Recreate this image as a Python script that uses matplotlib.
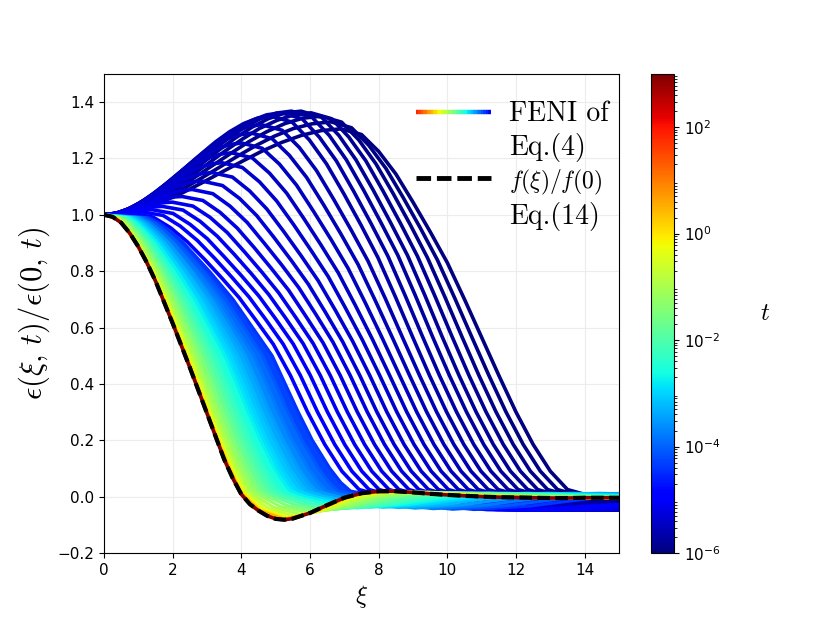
import numpy as np
import matplotlib
matplotlib.use("Agg")
import matplotlib.pyplot as plt
from matplotlib.colors import LogNorm, Normalize
from matplotlib.collections import LineCollection
from matplotlib.legend_handler import HandlerBase
from matplotlib.lines import Line2D
from matplotlib.cm import ScalarMappable
from matplotlib.font_manager import FontProperties

plt.rcParams['mathtext.fontset'] = 'cm'

# ---------------- data ----------------
# limit curve f(xi)/f(0), Eq.(14)
lim_xi = [0, 0.25, 0.5, 0.75, 1.0, 1.25, 1.5, 2.0, 2.5, 3.0, 3.5, 3.75, 4.0, 4.25, 4.5, 4.75,
          5.0, 5.25, 5.5, 6.0, 6.5, 7.0, 7.5, 8.0, 8.5, 9.0, 9.5, 10.0, 10.5, 11.0, 11.5,
          12.0, 12.5, 13.0, 13.5, 14.0, 14.5, 15.0]
lim_eps = [1.000, 0.993, 0.972, 0.935, 0.887, 0.830, 0.765, 0.615, 0.458, 0.295, 0.132, 0.065,
           0.008, -0.027, -0.050, -0.068, -0.079, -0.082, -0.078, -0.058, -0.030, -0.004, 0.012,
           0.019, 0.019, 0.015, 0.010, 0.006, 0.003, 0.000, -0.002, -0.003, -0.004, -0.005,
           -0.005, -0.004, -0.004, -0.004]
lim_logt = 3.0

# early-time curves (distinct dark-blue lines), log10(t)
dark_logt = [-6.00, -5.95, -5.90, -5.85, -5.80, -5.75, -5.70, -5.65, -5.60, -5.55, -5.50,
             -5.45, -5.40, -5.35, -5.30, -5.25, -5.20, -5.15, -5.10, -5.05, -5.00, -4.95]
# rising part (from xi=0 up to just before the bump maximum)
dark_rise_xi = [
    [0, 0.575, 1.15, 1.725, 2.30, 2.875, 3.45, 4.025, 4.60, 5.175, 5.75, 6.325],
    [0, 0.55, 1.10, 1.65, 2.20, 2.75, 3.31, 3.86, 4.41, 4.96, 5.51, 6.06],
    [0, 0.53, 1.05, 1.58, 2.11, 2.63, 3.16, 3.69, 4.21, 4.74, 5.27, 5.79],
    [0, 0.50, 1.01, 1.51, 2.01, 2.51, 3.02, 3.52, 4.02, 4.52, 5.03, 5.53],
    [0, 0.48, 0.96, 1.43, 1.91, 2.39, 2.87, 3.35, 3.83, 4.31, 4.78, 5.26],
    [0, 0.46, 0.91, 1.37, 1.82, 2.28, 2.73, 3.19, 3.64, 4.10, 4.55, 5.01],
    [0, 0.43, 0.86, 1.29, 1.72, 2.15, 2.59, 3.02, 3.45, 3.88, 4.31, 4.74],
    [0, 0.41, 0.81, 1.22, 1.63, 2.03, 2.44, 2.85, 3.25, 3.66, 4.07, 4.47],
    [0, 0.38, 0.77, 1.15, 1.53, 1.91, 2.30, 2.68, 3.06, 3.44, 3.83, 4.21],
    [0, 0.36, 0.72, 1.08, 1.43, 1.79, 2.15, 2.51, 2.87, 3.23, 3.58, 3.94],
    [0, 0.33, 0.67, 1.00, 1.34, 1.67, 2.01, 2.34, 2.67, 3.01, 3.34, 3.68],
    [0, 0.31, 0.62, 0.93, 1.24, 1.55, 1.86, 2.17, 2.48, 2.79, 3.10, 3.41],
    [0, 0.29, 0.57, 0.86, 1.14, 1.43, 1.72, 2.00, 2.29, 2.57, 2.86, 3.14],
    [0, 0.26, 0.52, 0.79, 1.05, 1.31, 1.57, 1.83, 2.09, 2.36, 2.62, 2.88],
    [0, 0.24, 0.48, 0.71, 0.95, 1.19, 1.43, 1.66, 1.90, 2.14, 2.38, 2.61],
    [0, 0.21, 0.43, 0.64, 0.86, 1.07, 1.29, 1.50, 1.71, 1.93, 2.14, 2.36],
    [0, 0.19, 0.38, 0.57, 0.76, 0.95, 1.14, 1.33, 1.52, 1.71, 1.90, 2.09],
    [0, 0.17, 0.33, 0.50, 0.66, 0.83, 1.00, 1.16, 1.33, 1.49, 1.66, 1.82],
    [0, 0.14, 0.28, 0.43, 0.57, 0.71, 0.85, 0.99, 1.13, 1.28, 1.42, 1.56],
    [0, 0.12, 0.24, 0.35, 0.47, 0.59, 0.71, 0.82, 0.94, 1.06, 1.18, 1.29],
    [0, 0.09, 0.19, 0.28, 0.37, 0.47, 0.56, 0.65, 0.75, 0.84, 0.93, 1.03],
    [0, 0.07, 0.14, 0.21, 0.28, 0.35, 0.42, 0.48, 0.55, 0.62, 0.69, 0.76],
]
dark_rise_eps = [
    [1, 1.006, 1.023, 1.048, 1.079, 1.115, 1.153, 1.190, 1.226, 1.257, 1.282, 1.299],
    [1, 1.007, 1.024, 1.052, 1.085, 1.124, 1.165, 1.206, 1.245, 1.279, 1.306, 1.323],
    [1, 1.007, 1.026, 1.055, 1.091, 1.132, 1.175, 1.218, 1.259, 1.295, 1.324, 1.343],
    [1, 1.007, 1.027, 1.056, 1.094, 1.136, 1.181, 1.226, 1.268, 1.306, 1.335, 1.355],
    [1, 1.007, 1.027, 1.057, 1.095, 1.138, 1.184, 1.230, 1.273, 1.311, 1.341, 1.361],
    [1, 1.007, 1.027, 1.057, 1.095, 1.138, 1.184, 1.230, 1.273, 1.311, 1.341, 1.361],
    [1, 1.007, 1.027, 1.056, 1.094, 1.136, 1.181, 1.226, 1.268, 1.306, 1.335, 1.355],
    [1, 1.007, 1.026, 1.055, 1.091, 1.132, 1.175, 1.218, 1.259, 1.295, 1.324, 1.343],
    [1, 1.006, 1.024, 1.050, 1.083, 1.120, 1.160, 1.200, 1.237, 1.270, 1.296, 1.314],
    [1, 1.006, 1.021, 1.045, 1.075, 1.109, 1.145, 1.181, 1.215, 1.245, 1.269, 1.284],
    [1, 1.005, 1.019, 1.040, 1.066, 1.096, 1.128, 1.159, 1.189, 1.215, 1.236, 1.250],
    [1, 1.004, 1.016, 1.034, 1.057, 1.083, 1.110, 1.137, 1.163, 1.186, 1.204, 1.216],
    [1, 1.004, 1.014, 1.029, 1.048, 1.070, 1.093, 1.115, 1.137, 1.156, 1.171, 1.181],
    [1, 1.003, 1.011, 1.023, 1.039, 1.056, 1.075, 1.094, 1.111, 1.127, 1.139, 1.147],
    [1, 1.002, 1.009, 1.019, 1.031, 1.045, 1.060, 1.075, 1.089, 1.101, 1.111, 1.118],
    [1, 1.002, 1.007, 1.014, 1.023, 1.034, 1.045, 1.056, 1.067, 1.076, 1.083, 1.088],
    [1, 1.001, 1.005, 1.010, 1.017, 1.024, 1.033, 1.041, 1.048, 1.055, 1.060, 1.064],
    [1, 1.001, 1.003, 1.007, 1.012, 1.017, 1.023, 1.028, 1.033, 1.038, 1.042, 1.044],
    [1, 1.001, 1.002, 1.005, 1.008, 1.011, 1.015, 1.019, 1.022, 1.025, 1.028, 1.029],
    [1, 1.000, 1.001, 1.003, 1.005, 1.007, 1.009, 1.011, 1.013, 1.015, 1.017, 1.018],
    [1, 1.000, 1.001, 1.002, 1.003, 1.004, 1.005, 1.006, 1.007, 1.008, 1.009, 1.010],
    [1, 1.000, 1.000, 1.001, 1.001, 1.002, 1.003, 1.003, 1.004, 1.004, 1.005, 1.005],
]
# bump maximum and descending part
dark_desc_xi = [
    [6.90, 7.50, 8.00, 8.50, 9.00, 9.50, 10.00, 10.50, 11.00, 11.50, 12.00, 12.50, 13.00, 13.50, 14.00, 14.50, 15.23, 16.23, 17.23, 18.23, 19.23, 20.73, 21.73],
    [6.61, 7.21, 7.71, 8.21, 8.71, 9.21, 9.71, 10.21, 10.71, 11.21, 11.71, 12.21, 12.71, 13.21, 13.71, 14.21, 14.94, 15.94, 16.94, 17.94, 18.94, 20.44, 21.44],
    [6.32, 6.92, 7.42, 7.92, 8.42, 8.92, 9.42, 9.92, 10.42, 10.92, 11.42, 11.92, 12.42, 12.92, 13.42, 13.92, 14.65, 15.65, 16.65, 17.65, 18.65, 20.15, 21.15],
    [6.03, 6.63, 7.13, 7.63, 8.13, 8.63, 9.13, 9.63, 10.13, 10.63, 11.13, 11.63, 12.13, 12.63, 13.13, 13.63, 14.36, 15.36, 16.36, 17.36, 18.36, 19.86, 20.86],
    [5.74, 6.34, 6.84, 7.34, 7.84, 8.34, 8.84, 9.34, 9.84, 10.34, 10.84, 11.34, 11.84, 12.34, 12.84, 13.34, 14.07, 15.07, 16.07, 17.07, 18.07, 19.57, 20.57],
    [5.46, 6.06, 6.56, 7.06, 7.56, 8.06, 8.56, 9.06, 9.56, 10.06, 10.56, 11.06, 11.56, 12.06, 12.56, 13.06, 13.79, 14.79, 15.79, 16.79, 17.79, 19.29, 20.29],
    [5.17, 5.77, 6.27, 6.77, 7.27, 7.77, 8.27, 8.77, 9.27, 9.77, 10.27, 10.77, 11.27, 11.77, 12.27, 12.77, 13.50, 14.50, 15.50, 16.50, 17.50, 19.00, 20.00],
    [4.88, 5.48, 5.98, 6.48, 6.98, 7.48, 7.98, 8.48, 8.98, 9.48, 9.98, 10.48, 10.98, 11.48, 11.98, 12.48, 13.21, 14.21, 15.21, 16.21, 17.21, 18.71, 19.71],
    [4.59, 5.19, 5.69, 6.19, 6.69, 7.19, 7.69, 8.19, 8.69, 9.19, 9.69, 10.19, 10.69, 11.19, 11.69, 12.19, 12.92, 13.92, 14.92, 15.92, 16.92, 18.42, 19.42],
    [4.30, 4.90, 5.40, 5.90, 6.40, 6.90, 7.40, 7.90, 8.40, 8.90, 9.40, 9.90, 10.40, 10.90, 11.40, 11.90, 12.63, 13.63, 14.63, 15.63, 16.63, 18.13, 19.13],
    [4.01, 4.61, 5.11, 5.61, 6.11, 6.61, 7.11, 7.61, 8.11, 8.61, 9.11, 9.61, 10.11, 10.61, 11.11, 11.61, 12.34, 13.34, 14.34, 15.34, 16.34, 17.84, 18.84],
    [3.72, 4.32, 4.82, 5.32, 5.82, 6.32, 6.82, 7.32, 7.82, 8.32, 8.82, 9.32, 9.82, 10.32, 10.82, 11.32, 12.05, 13.05, 14.05, 15.05, 16.05, 17.55, 18.55],
    [3.43, 4.03, 4.53, 5.03, 5.53, 6.03, 6.53, 7.03, 7.53, 8.03, 8.53, 9.03, 9.53, 10.03, 10.53, 11.03, 11.76, 12.76, 13.76, 14.76, 15.76, 17.26, 18.26],
    [3.14, 3.74, 4.24, 4.74, 5.24, 5.74, 6.24, 6.74, 7.24, 7.74, 8.24, 8.74, 9.24, 9.74, 10.24, 10.74, 11.47, 12.47, 13.47, 14.47, 15.47, 16.97, 17.97],
    [2.85, 3.45, 3.95, 4.45, 4.95, 5.45, 5.95, 6.45, 6.95, 7.45, 7.95, 8.45, 8.95, 9.45, 9.95, 10.45, 11.18, 12.18, 13.18, 14.18, 15.18, 16.68, 17.68],
    [2.57, 3.17, 3.67, 4.17, 4.67, 5.17, 5.67, 6.17, 6.67, 7.17, 7.67, 8.17, 8.67, 9.17, 9.67, 10.17, 10.90, 11.90, 12.90, 13.90, 14.90, 16.40, 17.40],
    [2.28, 2.88, 3.38, 3.88, 4.38, 4.88, 5.38, 5.88, 6.38, 6.88, 7.38, 7.88, 8.38, 8.88, 9.38, 9.88, 10.61, 11.61, 12.61, 13.61, 14.61, 16.11, 17.11],
    [1.99, 2.59, 3.09, 3.59, 4.09, 4.59, 5.09, 5.59, 6.09, 6.59, 7.09, 7.59, 8.09, 8.59, 9.09, 9.59, 10.32, 11.32, 12.32, 13.32, 14.32, 15.82, 16.82],
    [1.70, 2.30, 2.80, 3.30, 3.80, 4.30, 4.80, 5.30, 5.80, 6.30, 6.80, 7.30, 7.80, 8.30, 8.80, 9.30, 10.03, 11.03, 12.03, 13.03, 14.03, 15.53, 16.53],
    [1.41, 2.01, 2.51, 3.01, 3.51, 4.01, 4.51, 5.01, 5.51, 6.01, 6.51, 7.01, 7.51, 8.01, 8.51, 9.01, 9.74, 10.74, 11.74, 12.74, 13.74, 15.24, 16.24],
    [1.12, 1.72, 2.22, 2.72, 3.22, 3.72, 4.22, 4.72, 5.22, 5.72, 6.22, 6.72, 7.22, 7.72, 8.22, 8.72, 9.45, 10.45, 11.45, 12.45, 13.45, 14.95, 15.95],
    [0.83, 1.43, 1.93, 2.43, 2.93, 3.43, 3.93, 4.43, 4.93, 5.43, 5.93, 6.43, 6.93, 7.43, 7.93, 8.43, 9.16, 10.16, 11.16, 12.16, 13.16, 14.66, 15.66],
]
dark_desc_eps_head = [
    [1.305, 1.285, 1.225, 1.145, 1.045, 0.940, 0.830, 0.700, 0.565],
    [1.330, 1.309, 1.247, 1.165, 1.062, 0.954, 0.840, 0.706, 0.567],
    [1.350, 1.329, 1.266, 1.181, 1.076, 0.965, 0.848, 0.711, 0.569],
    [1.362, 1.341, 1.276, 1.191, 1.084, 0.971, 0.853, 0.714, 0.570],
    [1.368, 1.346, 1.282, 1.195, 1.088, 0.974, 0.856, 0.716, 0.570],
    [1.368, 1.346, 1.282, 1.195, 1.088, 0.974, 0.856, 0.716, 0.570],
    [1.362, 1.341, 1.276, 1.191, 1.084, 0.971, 0.853, 0.714, 0.570],
    [1.350, 1.329, 1.266, 1.181, 1.076, 0.965, 0.848, 0.711, 0.569],
    [1.320, 1.300, 1.239, 1.157, 1.055, 0.948, 0.836, 0.704, 0.566],
    [1.290, 1.270, 1.211, 1.133, 1.035, 0.932, 0.824, 0.696, 0.564],
    [1.255, 1.236, 1.180, 1.105, 1.011, 0.913, 0.810, 0.688, 0.561],
    [1.220, 1.202, 1.148, 1.077, 0.987, 0.893, 0.795, 0.679, 0.558],
    [1.185, 1.168, 1.117, 1.049, 0.964, 0.874, 0.781, 0.670, 0.555],
    [1.150, 1.134, 1.085, 1.021, 0.940, 0.855, 0.766, 0.661, 0.552],
    [1.120, 1.104, 1.058, 0.997, 0.920, 0.839, 0.754, 0.654, 0.550],
    [1.090, 1.075, 1.031, 0.973, 0.899, 0.823, 0.742, 0.647, 0.548],
    [1.065, 1.051, 1.009, 0.953, 0.883, 0.809, 0.732, 0.640, 0.546],
    [1.045, 1.031, 0.991, 0.937, 0.869, 0.798, 0.723, 0.635, 0.544],
    [1.030, 1.017, 0.977, 0.924, 0.859, 0.790, 0.717, 0.632, 0.543],
    [1.018, 1.005, 0.966, 0.915, 0.850, 0.783, 0.712, 0.629, 0.542],
    [1.010, 0.998, 0.960, 0.909, 0.846, 0.779, 0.709, 0.627, 0.541],
    [1.005, 0.992, 0.955, 0.904, 0.842, 0.776, 0.707, 0.625, 0.541],
]
dark_eps_tail = [0.43, 0.30, 0.185, 0.09, 0.025, 0.008, -0.004, -0.018, -0.035, -0.046,
                 -0.048, -0.042, -0.030, -0.025]

# later-time curves (the dense fan), log10(t)
fan_logt = [-4.4, -4.1, -3.8, -3.5, -3.25, -3.0, -2.75, -2.5, -2.25, -2.0, -1.75, -1.5,
            -1.25, -1.0, -0.7, -0.4, 0.0, 0.5]
fan_eps_head = [1.0, 0.99, 0.97, 0.94, 0.90, 0.80, 0.70, 0.60, 0.50, 0.40, 0.30, 0.20, 0.10,
                0.05, 0.02, 0.0]
fan_xi = [
    [0, 1.31, 1.62, 1.95, 2.32, 3.07, 3.76, 4.33, 4.90, 5.28, 5.66, 6.07, 6.58, 6.90, 7.18, 8.03, 9.31, 10.78, 12.45, 13.48, 14.50, 15.53, 17.15, 19.60, 22.79, 26.95, 31.85],
    [0, 1.20, 1.50, 1.81, 2.16, 2.88, 3.54, 4.08, 4.62, 5.00, 5.36, 5.77, 6.25, 6.56, 6.82, 7.59, 8.78, 10.16, 11.73, 12.71, 13.68, 14.65, 16.17, 18.48, 21.48, 25.41, 30.03],
    [0, 1.09, 1.38, 1.68, 2.02, 2.70, 3.33, 3.84, 4.36, 4.73, 5.09, 5.48, 5.95, 6.24, 6.49, 7.18, 8.28, 9.59, 11.07, 11.99, 12.91, 13.82, 15.26, 17.44, 20.27, 23.98, 28.34],
    [0, 1.00, 1.28, 1.56, 1.89, 2.54, 3.13, 3.63, 4.12, 4.48, 4.83, 5.22, 5.67, 5.95, 6.19, 6.81, 7.83, 9.06, 10.46, 11.33, 12.20, 13.06, 14.42, 16.48, 19.16, 22.66, 26.78],
    [0, 0.91, 1.18, 1.45, 1.77, 2.39, 2.96, 3.43, 3.90, 4.26, 4.60, 4.98, 5.41, 5.69, 5.90, 6.46, 7.41, 8.58, 9.91, 10.73, 11.54, 12.36, 13.65, 15.60, 18.14, 21.45, 25.35],
    [0, 0.83, 1.09, 1.35, 1.66, 2.26, 2.79, 3.25, 3.70, 4.05, 4.39, 4.75, 5.18, 5.44, 5.65, 6.15, 7.03, 8.14, 9.40, 10.18, 10.95, 11.73, 12.95, 14.80, 17.21, 20.35, 24.05],
    [0, 0.76, 1.01, 1.26, 1.56, 2.14, 2.65, 3.09, 3.52, 3.87, 4.20, 4.56, 4.97, 5.23, 5.42, 5.87, 6.69, 7.74, 8.94, 9.68, 10.42, 11.16, 12.32, 14.08, 16.37, 19.36, 22.88],
    [0, 0.69, 0.94, 1.18, 1.46, 2.02, 2.51, 2.93, 3.35, 3.69, 4.02, 4.37, 4.77, 5.02, 5.20, 5.60, 6.37, 7.37, 8.51, 9.21, 9.92, 10.62, 11.73, 13.40, 15.58, 18.43, 21.78],
    [0, 0.63, 0.87, 1.11, 1.38, 1.92, 2.39, 2.80, 3.20, 3.54, 3.86, 4.21, 4.60, 4.84, 5.01, 5.37, 6.08, 7.04, 8.13, 8.80, 9.47, 10.14, 11.20, 12.80, 14.88, 17.60, 20.80],
    [0, 0.58, 0.81, 1.03, 1.30, 1.83, 2.28, 2.67, 3.06, 3.39, 3.71, 4.05, 4.44, 4.67, 4.83, 5.15, 5.81, 6.73, 7.77, 8.42, 9.06, 9.70, 10.71, 12.24, 14.23, 16.83, 19.89],
    [0, 0.52, 0.76, 0.97, 1.23, 1.74, 2.17, 2.56, 2.93, 3.26, 3.58, 3.91, 4.29, 4.51, 4.67, 4.95, 5.57, 6.45, 7.44, 8.06, 8.67, 9.29, 10.26, 11.72, 13.62, 16.12, 19.05],
    [0, 0.48, 0.70, 0.91, 1.17, 1.66, 2.08, 2.45, 2.81, 3.14, 3.45, 3.78, 4.15, 4.37, 4.52, 4.77, 5.34, 6.18, 7.14, 7.73, 8.32, 8.91, 9.84, 11.24, 13.07, 15.46, 18.27],
    [0, 0.43, 0.66, 0.86, 1.10, 1.59, 1.99, 2.35, 2.71, 3.02, 3.33, 3.66, 4.02, 4.24, 4.38, 4.60, 5.13, 5.94, 6.86, 7.43, 7.99, 8.56, 9.45, 10.80, 12.56, 14.85, 17.55],
    [0, 0.39, 0.61, 0.81, 1.05, 1.52, 1.91, 2.26, 2.60, 2.92, 3.23, 3.55, 3.90, 4.11, 4.25, 4.44, 4.94, 5.72, 6.60, 7.15, 7.70, 8.24, 9.10, 10.40, 12.09, 14.30, 16.90],
    [0, 0.36, 0.58, 0.77, 1.00, 1.46, 1.84, 2.19, 2.52, 2.84, 3.14, 3.46, 3.81, 4.02, 4.15, 4.31, 4.79, 5.54, 6.40, 6.93, 7.46, 7.99, 8.82, 10.08, 11.72, 13.86, 16.38],
    [0, 0.33, 0.55, 0.73, 0.97, 1.42, 1.79, 2.13, 2.45, 2.77, 3.07, 3.38, 3.73, 3.93, 4.06, 4.20, 4.66, 5.39, 6.22, 6.74, 7.25, 7.77, 8.58, 9.80, 11.39, 13.48, 15.93],
    [0, 0.32, 0.53, 0.71, 0.94, 1.39, 1.76, 2.09, 2.41, 2.73, 3.03, 3.34, 3.68, 3.88, 4.01, 4.14, 4.58, 5.30, 6.12, 6.63, 7.13, 7.64, 8.44, 9.64, 11.21, 13.26, 15.67],
    [0, 0.31, 0.52, 0.70, 0.93, 1.37, 1.73, 2.06, 2.38, 2.70, 3.00, 3.31, 3.65, 3.85, 3.96, 4.09, 4.53, 5.25, 6.06, 6.56, 7.06, 7.56, 8.35, 9.54, 11.09, 13.12, 15.50],
]
fan_eps_tail = [
    [-0.028, -0.046, -0.033, -0.017, -0.002, 0.008, 0.012, 0.006, 0.0, -0.003, -0.003],
    [-0.027, -0.045, -0.032, -0.017, -0.002, 0.008, 0.012, 0.006, 0.0, -0.003, -0.003],
    [-0.026, -0.043, -0.031, -0.016, -0.002, 0.008, 0.012, 0.006, 0.0, -0.003, -0.003],
    [-0.025, -0.041, -0.029, -0.015, -0.002, 0.008, 0.012, 0.006, 0.0, -0.003, -0.003],
    [-0.024, -0.039, -0.028, -0.014, -0.002, 0.008, 0.012, 0.006, 0.0, -0.003, -0.003],
    [-0.023, -0.038, -0.027, -0.014, -0.002, 0.008, 0.012, 0.006, 0.0, -0.003, -0.003],
    [-0.023, -0.038, -0.027, -0.014, -0.002, 0.008, 0.012, 0.006, 0.0, -0.003, -0.003],
    [-0.024, -0.040, -0.028, -0.015, -0.002, 0.008, 0.012, 0.006, 0.0, -0.003, -0.003],
    [-0.026, -0.042, -0.030, -0.016, -0.002, 0.008, 0.013, 0.007, 0.0, -0.003, -0.003],
    [-0.027, -0.045, -0.032, -0.017, -0.002, 0.008, 0.013, 0.007, 0.0, -0.003, -0.003],
    [-0.029, -0.048, -0.034, -0.018, -0.002, 0.009, 0.014, 0.007, 0.0, -0.004, -0.004],
    [-0.032, -0.052, -0.037, -0.019, -0.002, 0.009, 0.015, 0.008, 0.0, -0.004, -0.004],
    [-0.035, -0.057, -0.040, -0.021, -0.002, 0.010, 0.016, 0.008, 0.0, -0.004, -0.004],
    [-0.038, -0.063, -0.045, -0.023, -0.003, 0.011, 0.017, 0.009, 0.0, -0.004, -0.004],
    [-0.042, -0.069, -0.049, -0.026, -0.003, 0.011, 0.018, 0.010, 0.0, -0.005, -0.005],
    [-0.045, -0.074, -0.053, -0.027, -0.003, 0.011, 0.018, 0.010, 0.0, -0.005, -0.005],
    [-0.048, -0.078, -0.055, -0.029, -0.003, 0.012, 0.019, 0.010, 0.0, -0.005, -0.005],
    [-0.049, -0.080, -0.057, -0.030, -0.003, 0.012, 0.019, 0.010, 0.0, -0.005, -0.005],
]

x_ticks = [0, 2, 4, 6, 8, 10, 12, 14]
y_ticks = [-0.2, 0.0, 0.2, 0.4, 0.6, 0.8, 1.0, 1.2, 1.4]
cbar_ticks = [1e-6, 1e-4, 1e-2, 1e0, 1e2]
legend_labels = ['FENI of', 'Eq.(4)', r'$f(\xi)/f(0)$', 'Eq.(14)']

# ---------------- drawing ----------------
cmap = plt.get_cmap('jet')
norm = LogNorm(vmin=1e-6, vmax=1e3)

fig = plt.figure(figsize=(8.3, 6.23), dpi=100)
ax = fig.add_axes([0.1253, 0.1124, 0.6205, 0.7689])
cax = fig.add_axes([0.7843, 0.1124, 0.0277, 0.7689])

ax.grid(True, color='#ececec', linewidth=0.8)
ax.set_axisbelow(True)

LW = 2.6
for rx, ry, dx, dy, lt in zip(dark_rise_xi, dark_rise_eps, dark_desc_xi,
                              dark_desc_eps_head, dark_logt):
    ax.plot(rx + dx, ry + dy + dark_eps_tail, color=cmap(norm(10 ** lt)), lw=LW,
            solid_capstyle='butt', zorder=2)

nh = len(fan_eps_head)
for j in range(len(fan_xi) - 1):
    xa = fan_xi[j][:nh]
    xb = fan_xi[j + 1][:nh]
    col = cmap(norm(10 ** (0.5 * (fan_logt[j] + fan_logt[j + 1]))))
    ax.fill(xa + xb[::-1], fan_eps_head + fan_eps_head[::-1], color=col, lw=0, zorder=2.5)

for xi, tail, lt in zip(fan_xi, fan_eps_tail, fan_logt):
    ax.plot(xi, fan_eps_head + tail, color=cmap(norm(10 ** lt)), lw=2.2,
            solid_capstyle='butt', zorder=3)

ax.plot(lim_xi, lim_eps, color=cmap(norm(10 ** lim_logt)), lw=LW, zorder=4)
ax.plot(lim_xi, lim_eps, color='black', lw=3.0, linestyle=(0, (3, 1.3)), zorder=5)

ax.set_xlim(0, 15)
ax.set_ylim(-0.2, 1.5)
ax.set_xticks(x_ticks)
ax.set_yticks(y_ticks)
ax.tick_params(labelsize=11)
ax.set_xlabel(r'$\xi$', fontsize=18)
ax.set_ylabel(r'$\epsilon(\xi,\,t)/\epsilon(0,\,t)$', fontsize=22)


class GradientHandler(HandlerBase):
    def create_artists(self, legend, orig_handle, xdescent, ydescent, width, height,
                       fontsize, trans):
        n = 30
        y = height / 2.0 - ydescent
        x0 = -xdescent
        segs = [[(x0 + width * i / n, y), (x0 + width * (i + 1) / n, y)] for i in range(n)]
        lc = LineCollection(segs, cmap=cmap, norm=Normalize(0, 1), linewidths=3.2,
                            transform=trans)
        lc.set_array(np.array([0.88 - 0.76 * (i + 0.5) / n for i in range(n)]))
        return [lc]


grad_handle = Line2D([], [], color='red')
blank1 = Line2D([], [], linestyle='none')
blank2 = Line2D([], [], linestyle='none')
dash_handle = Line2D([], [], color='black', lw=3.5, linestyle=(0, (3, 1.2)))
leg = ax.legend([grad_handle, blank1, dash_handle, blank2], legend_labels,
                handler_map={grad_handle: GradientHandler()},
                loc='upper right', bbox_to_anchor=(1.012, 0.978), frameon=False,
                prop=FontProperties(family='cmr10', size=20), handlelength=2.7,
                handletextpad=0.65, labelspacing=0.2, borderaxespad=0.2)
leg.get_texts()[2].set_fontsize(17)

sm = ScalarMappable(norm=norm, cmap=cmap)
cb = fig.colorbar(sm, cax=cax)
cb.set_ticks(cbar_ticks)
cb.ax.tick_params(labelsize=11)
cb.set_label(r'$t$', rotation=0, fontsize=18, labelpad=32, va='center')

fig.savefig('out.png', dpi=100)
